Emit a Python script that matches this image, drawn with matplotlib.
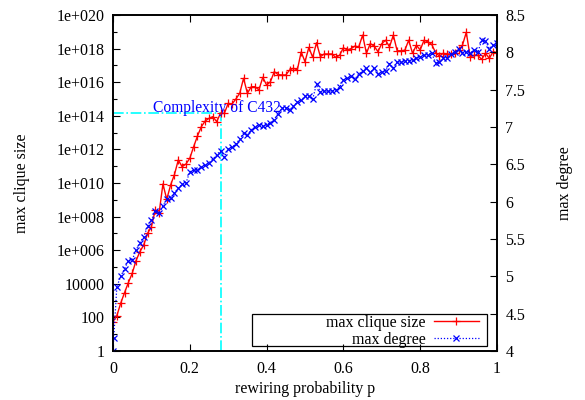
import numpy as np
import matplotlib
matplotlib.use('Agg')
import matplotlib.pyplot as plt
from matplotlib.ticker import FixedLocator, FixedFormatter, NullFormatter
from matplotlib.patches import Rectangle

plt.rcParams['font.family'] = ['Liberation Serif', 'DejaVu Serif']

# rewiring probability p, step 0.01
p = np.linspace(0, 1, 101)

clique_log10 = [
    1.75, 2.10, 2.84, 3.47, 4.07, 4.62, 5.38, 5.91, 6.31, 7.00,
    7.40, 8.39, 8.20, 9.94, 9.03, 9.88, 10.50, 11.37, 10.97, 11.13,
    11.47, 12.16, 12.80, 13.35, 13.69, 13.85, 13.95, 13.65, 14.15, 14.15,
    14.74, 14.70, 15.00, 15.34, 16.23, 15.34, 15.73, 15.73, 15.54, 16.29,
    15.83, 16.03, 16.63, 16.45, 16.43, 16.43, 16.73, 16.83, 16.73, 17.80,
    17.22, 18.07, 17.48, 18.35, 17.52, 17.68, 17.68, 17.68, 17.48, 17.60,
    18.05, 17.92, 18.00, 18.15, 18.10, 18.80, 17.72, 18.30, 18.15, 17.82,
    18.30, 18.50, 18.10, 18.80, 17.87, 17.87, 17.90, 18.50, 17.72, 18.20,
    17.92, 18.50, 18.40, 18.25, 17.76, 17.56, 17.72, 17.68, 17.68, 17.72,
    17.92, 18.20, 18.97, 17.52, 17.60, 17.60, 17.36, 17.72, 17.42, 17.82,
    17.76,
]

# max degree (right axis); one extra sample just after p = 0
degree_p = [0.0, 0.002] + list(p[1:])
degree = [
    4.00, 4.18, 4.86, 5.00, 5.10, 5.21, 5.22, 5.35, 5.45, 5.53, 5.67,
    5.75, 5.88, 5.85, 5.94, 6.03, 6.05, 6.11, 6.18, 6.23, 6.25,
    6.40, 6.42, 6.43, 6.46, 6.49, 6.52, 6.57, 6.63, 6.68, 6.60,
    6.70, 6.73, 6.77, 6.84, 6.92, 6.89, 6.96, 7.00, 7.03, 7.01,
    7.03, 7.06, 7.10, 7.18, 7.25, 7.26, 7.23, 7.28, 7.33, 7.36,
    7.41, 7.42, 7.37, 7.58, 7.47, 7.48, 7.48, 7.48, 7.50, 7.53,
    7.63, 7.65, 7.68, 7.64, 7.71, 7.75, 7.79, 7.73, 7.79, 7.71,
    7.74, 7.75, 7.85, 7.79, 7.87, 7.87, 7.88, 7.89, 7.90, 7.92,
    7.94, 7.96, 7.97, 7.99, 7.86, 7.87, 7.93, 7.93, 7.98, 8.00,
    8.05, 7.99, 8.00, 7.99, 8.03, 8.00, 8.16, 8.15, 8.05, 8.10,
    8.12,
]

# complexity marker for C432
c432_p = 0.28
c432_size = 1.4e14

left_ticks = [1e0, 1e2, 1e4, 1e6, 1e8, 1e10, 1e12, 1e14, 1e16, 1e18, 1e20]
left_ticklabels = ['1', '100', '10000', '1e+006', '1e+008', '1e+010',
                   '1e+012', '1e+014', '1e+016', '1e+018', '1e+020']
right_ticks = [4, 4.5, 5, 5.5, 6, 6.5, 7, 7.5, 8, 8.5]
right_ticklabels = ['4', '4.5', '5', '5.5', '6', '6.5', '7', '7.5', '8', '8.5']
x_ticks = [0, 0.2, 0.4, 0.6, 0.8, 1]
x_ticklabels = ['0', '0.2', '0.4', '0.6', '0.8', '1']

fs = 11.5
red = '#ff0000'
blue = '#0000ff'
cyan = '#00ffff'

fig = plt.figure(figsize=(5.85, 4.0), dpi=100)
ax = fig.add_axes([113 / 585, 1 - 351 / 400, 384 / 585, 336 / 400])
ax2 = ax.twinx()

clique = [10 ** v for v in clique_log10]

# cyan guide lines
ax.plot([0, c432_p], [c432_size, c432_size], color=cyan, lw=1.2, ls='-.')
ax.plot([c432_p, c432_p], [1, c432_size], color=cyan, lw=1.2, ls='-.')
ax.text(0.105, c432_size * 2.2, 'Complexity of C432', color=blue,
        fontsize=fs - 0.3, va='center', ha='left')

l1, = ax.plot(p, clique, color=red, lw=1.0, marker='+', ms=6, mew=0.9,
              label='max clique size')
l2, = ax2.plot(degree_p, degree, color=blue, lw=0.9, ls=(0, (1, 1.5)),
               marker='x', ms=4.5, mew=0.9, label='max degree')

ax.set_yscale('log')
ax.set_xlim(0, 1)
ax.set_ylim(1, 1e20)
ax2.set_ylim(4, 8.5)

ax.yaxis.set_major_locator(FixedLocator(left_ticks))
ax.yaxis.set_major_formatter(FixedFormatter(left_ticklabels))
ax.yaxis.set_minor_locator(FixedLocator([10 ** k for k in range(1, 20, 2)]))
ax.yaxis.set_minor_formatter(NullFormatter())
ax.xaxis.set_major_locator(FixedLocator(x_ticks))
ax.xaxis.set_major_formatter(FixedFormatter(x_ticklabels))
ax2.yaxis.set_major_locator(FixedLocator(right_ticks))
ax2.yaxis.set_major_formatter(FixedFormatter(right_ticklabels))

ax.tick_params(axis='x', which='both', direction='in', top=True,
               labelsize=fs, length=5, width=0.8, pad=7)
ax.tick_params(axis='y', which='major', direction='in', right=False,
               labelsize=fs, length=5, width=0.8, pad=6)
ax.tick_params(axis='y', which='minor', direction='in', right=False,
               length=3, width=0.8)
ax2.tick_params(axis='y', direction='in', labelsize=fs, length=5,
                width=0.8, pad=6)
ax2.yaxis.set_minor_locator(FixedLocator([]))

for a in (ax, ax2):
    for s in a.spines.values():
        s.set_linewidth(1.2)

ax.set_xlabel('rewiring probability p', fontsize=fs, labelpad=3)
ax.set_ylabel('max clique size', fontsize=fs, labelpad=19)
ax2.set_ylabel('max degree', fontsize=fs, labelpad=23)

# legend box drawn like gnuplot
ax2.add_patch(Rectangle((0.362, 0.015), 0.612, 0.095, transform=ax2.transAxes,
                        fill=False, edgecolor='black', lw=0.9, zorder=5))
leg = ax2.legend([l1, l2], ['max clique size', 'max degree'],
                 loc='lower right', bbox_to_anchor=(0.952, 0.01),
                 frameon=False, markerfirst=False, fontsize=fs,
                 handlelength=2.8, handletextpad=0.5, labelspacing=0.05,
                 borderpad=0.0, borderaxespad=0.0)
leg.set_zorder(6)

plt.savefig('out.png', dpi=100)
